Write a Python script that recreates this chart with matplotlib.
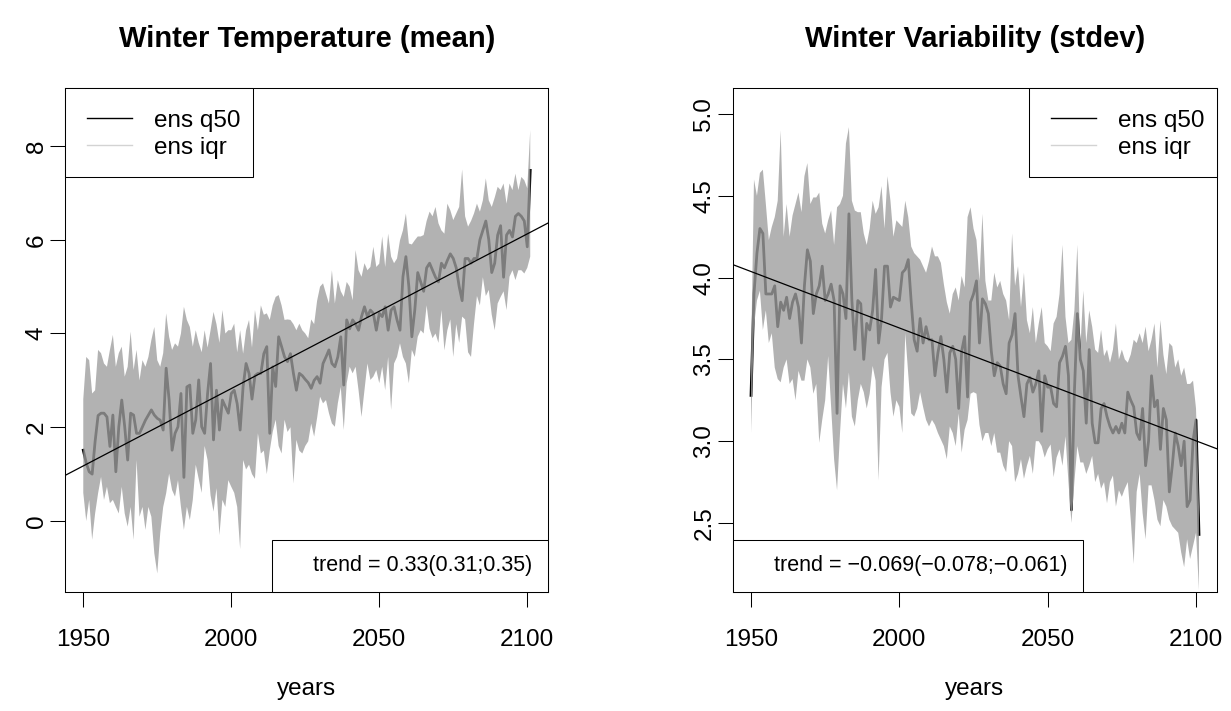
import numpy as np
import matplotlib
matplotlib.use("Agg")
import matplotlib.pyplot as plt
from matplotlib.lines import Line2D
from matplotlib.patches import Rectangle

# ---------------------------------------------------------------- data
years = np.arange(1950, 2102)

# winter mean temperature: ensemble median and inter-quartile range
temp_q50 = [
    1.51, 1.24, 1.05, 1.00, 1.70, 2.25, 2.30, 2.30, 2.22, 1.59,
    2.26, 1.05, 2.01, 2.58, 2.01, 1.30, 2.30, 2.26, 1.87, 1.87,
    2.01, 2.15, 2.26, 2.37, 2.26, 2.19, 2.15, 1.94, 3.26, 2.58,
    1.51, 1.87, 2.01, 2.72, 0.93, 2.86, 2.90, 1.87, 2.16, 3.01,
    2.01, 1.87, 2.72, 3.36, 1.73, 2.79, 1.94, 2.58, 2.44, 2.30,
    2.72, 2.79, 2.50, 1.94, 2.87, 3.36, 3.15, 2.60, 3.10, 3.15,
    3.15, 3.57, 3.72, 1.87, 3.29, 2.87, 3.93, 3.72, 3.50, 3.40,
    3.57, 3.15, 2.79, 3.15, 3.10, 3.02, 2.95, 2.83, 3.00, 3.08, 2.94,
    3.36, 3.50, 3.65, 3.36, 3.29, 3.50, 3.93, 2.90, 4.29, 4.10,
    4.29, 4.20, 4.07, 4.36, 4.57, 4.36, 4.50, 4.43, 4.07, 4.43,
    4.36, 4.57, 4.07, 4.50, 4.57, 4.29, 4.07, 5.21, 5.64, 5.00,
    3.93, 4.50, 5.30, 5.10, 4.90, 5.40, 5.50, 5.35, 5.20, 5.10,
    5.50, 5.40, 5.56, 5.70, 5.60, 5.40, 5.00, 4.70, 5.60, 5.60,
    5.50, 5.60, 5.60, 6.00, 6.20, 6.40, 6.00, 5.30, 5.50, 6.10,
    6.30, 5.20, 6.10, 6.20, 6.06, 6.50, 6.56, 6.50, 6.40, 5.85, 7.48,
]
temp_q75 = [
    2.60, 3.50, 3.43, 2.72, 2.79, 3.65, 3.58, 3.36, 3.29, 3.65,
    3.97, 3.29, 3.58, 3.72, 3.08, 3.29, 4.04, 3.22, 3.65, 3.00,
    3.43, 3.29, 3.50, 3.86, 4.14, 3.43, 3.29, 3.58, 4.43, 3.93,
    3.65, 3.79, 3.72, 4.00, 4.57, 4.29, 4.14, 3.72, 4.07, 3.80,
    3.60, 4.07, 3.70, 4.07, 4.46, 4.20, 3.80, 4.50, 4.00, 4.07,
    4.07, 4.21, 3.60, 4.07, 3.57, 4.07, 4.29, 3.70, 4.50, 4.07,
    4.60, 4.40, 4.43, 4.29, 4.60, 4.78, 4.82, 4.60, 4.29, 4.30,
    4.29, 4.20, 4.07, 4.21, 4.07, 4.00, 3.90, 4.30, 4.20, 4.70, 5.00,
    5.07, 4.85, 4.64, 5.35, 4.64, 5.14, 4.90, 4.78, 5.10, 5.00,
    4.71, 5.78, 5.35, 5.21, 5.50, 5.35, 5.42, 5.85, 5.42, 5.49,
    6.07, 5.42, 6.13, 5.64, 5.50, 5.60, 5.99, 6.20, 6.56, 5.92,
    5.90, 5.99, 6.07, 6.07, 6.10, 6.40, 6.60, 6.50, 6.70, 6.35,
    6.20, 6.13, 6.77, 6.63, 6.42, 6.56, 6.70, 7.50, 6.50, 6.28,
    6.40, 6.56, 6.77, 6.60, 6.84, 7.31, 6.84, 6.70, 6.90, 7.13,
    7.06, 7.20, 6.77, 7.20, 7.06, 7.41, 7.06, 7.34, 7.27, 7.10, 8.34,
]
temp_q25 = [
    0.60, 0.00, 0.45, -0.40, 0.16, 0.59, 0.94, 0.45, 0.73, 0.38,
    0.45, 0.30, 0.16, 0.73, 0.16, -0.12, 0.30, -0.40, 1.30, 0.09,
    0.30, -0.19, 0.30, 0.09, -0.69, -1.12, -0.26, 0.30, 0.59, 1.01,
    0.66, 0.52, 0.87, 0.30, -0.19, 0.30, 0.02, 0.45, 1.20, 0.90,
    0.60, 1.60, 1.30, 0.55, 0.20, 0.70, -0.30, 0.45, 0.30, 0.87,
    0.73, 0.60, 0.30, -0.60, 1.30, 1.10, 1.20, 1.00, 0.90, 1.87,
    1.44, 1.50, 1.00, 1.50, 1.90, 2.16, 1.60, 1.44, 2.16, 1.90,
    2.00, 0.80, 1.73, 1.50, 1.44, 1.60, 1.70, 2.08, 1.80, 2.20, 2.65,
    2.51, 2.58, 2.30, 2.08, 2.01, 2.51, 2.86, 1.94, 2.94, 3.29,
    3.15, 3.29, 2.79, 2.22, 2.79, 3.36, 3.01, 3.08, 3.22, 2.94,
    3.29, 2.79, 3.50, 2.37, 3.36, 3.50, 3.79, 3.50, 3.36, 2.94,
    3.65, 3.50, 3.93, 4.07, 4.00, 4.60, 4.10, 3.90, 4.00, 3.80,
    4.50, 3.64, 4.07, 4.30, 3.50, 4.20, 3.80, 4.36, 4.30, 3.60,
    3.50, 4.20, 4.80, 4.60, 5.20, 4.80, 4.93, 4.40, 4.07, 4.64,
    4.78, 4.90, 4.50, 5.21, 5.35, 5.14, 5.35, 5.35, 5.28, 5.40, 5.64,
]

# winter variability (standard deviation): ensemble median and IQR
sd_q50 = [
    3.28, 3.90, 4.15, 4.30, 4.27, 3.90, 3.90, 3.90, 3.95, 3.70,
    3.85, 3.80, 3.88, 3.75, 3.85, 3.90, 3.82, 3.60, 3.95, 4.17,
    4.10, 3.78, 3.90, 3.95, 4.07, 3.86, 3.90, 3.96, 3.86, 3.17,
    3.95, 3.90, 3.75, 4.39, 3.86, 3.56, 3.86, 3.84, 3.50, 3.72,
    3.68, 3.80, 4.05, 3.60, 3.75, 4.07, 4.07, 3.82, 3.88, 3.87,
    3.86, 4.03, 4.05, 4.11, 3.85, 3.62, 3.55, 3.75, 3.60, 3.70,
    3.62, 3.62, 3.40, 3.54, 3.64, 3.50, 3.30, 3.54, 3.58, 3.50,
    3.20, 3.55, 3.64, 3.27, 3.85, 3.90, 3.98, 3.60, 3.87, 3.84, 3.78,
    3.55, 3.40, 3.48, 3.46, 3.35, 3.29, 3.60, 3.65, 3.78, 3.40,
    3.27, 3.15, 3.35, 3.39, 3.30, 3.35, 3.43, 3.06, 3.40, 3.33,
    3.33, 3.23, 3.21, 3.48, 3.52, 3.58, 3.40, 2.58, 3.30, 3.78,
    3.50, 3.43, 3.11, 3.56, 3.11, 2.99, 2.99, 3.20, 3.23, 3.15,
    3.09, 3.05, 3.09, 3.05, 3.11, 3.05, 3.30, 3.25, 3.21, 3.05,
    3.01, 3.20, 2.85, 3.00, 3.40, 3.21, 3.25, 2.95, 3.20, 3.13,
    2.69, 2.85, 3.05, 2.97, 2.85, 3.00, 2.60, 2.64, 3.00, 3.13, 2.43,
]
sd_q75 = [
    3.50, 4.60, 4.50, 4.64, 4.66, 4.45, 4.23, 4.31, 4.37, 4.47,
    4.90, 4.25, 4.45, 4.25, 4.38, 4.45, 4.52, 4.40, 4.62, 4.70,
    4.45, 4.49, 4.49, 4.52, 4.33, 4.27, 4.35, 4.41, 4.20, 4.43,
    4.45, 4.50, 4.82, 4.92, 4.47, 4.41, 4.40, 4.40, 4.27, 4.20,
    4.30, 4.47, 4.39, 4.43, 4.56, 4.30, 4.62, 4.47, 4.25, 4.35,
    4.33, 4.31, 4.47, 4.37, 4.19, 4.15, 4.13, 4.11, 4.07, 4.03,
    4.10, 4.19, 4.13, 4.13, 4.09, 3.96, 3.85, 3.78, 3.90, 3.94,
    3.86, 4.01, 3.94, 4.37, 4.43, 4.30, 4.23, 3.98, 4.39, 3.98, 3.86,
    3.86, 4.03, 3.94, 3.98, 3.90, 3.86, 3.74, 4.27, 3.95, 4.07,
    3.82, 4.03, 3.74, 3.66, 3.82, 3.60, 3.72, 3.82, 3.60, 3.58,
    3.55, 3.72, 3.76, 3.90, 4.20, 3.76, 3.60, 3.62, 3.80, 4.20,
    3.56, 3.92, 3.60, 3.80, 3.70, 3.56, 3.54, 3.68, 3.52, 3.56,
    3.48, 3.56, 3.72, 3.50, 3.56, 3.50, 3.48, 3.53, 3.62, 3.60,
    3.66, 3.60, 3.70, 3.55, 3.62, 3.72, 3.45, 3.74, 3.53, 3.41,
    3.60, 3.58, 3.45, 3.50, 3.40, 3.45, 3.35, 3.35, 3.37, 3.20, 2.60,
]
sd_q25 = [
    3.05, 3.70, 3.86, 3.92, 3.68, 3.80, 3.60, 3.66, 3.45, 3.38,
    3.36, 3.45, 3.50, 3.35, 3.38, 3.25, 3.43, 3.37, 3.37, 3.50,
    3.45, 3.29, 3.35, 2.99, 3.13, 3.25, 3.52, 3.21, 2.89, 2.70,
    3.05, 3.35, 3.20, 3.42, 3.15, 3.09, 3.25, 3.35, 3.30, 3.20,
    3.29, 3.46, 3.37, 2.76, 3.33, 3.50, 3.54, 3.30, 3.15, 3.25,
    3.21, 3.05, 3.66, 3.41, 3.17, 3.15, 3.20, 3.30, 3.21, 3.13,
    3.09, 3.13, 3.10, 3.05, 3.01, 2.97, 2.89, 3.09, 3.05, 2.97,
    3.17, 2.93, 3.07, 3.13, 3.29, 3.30, 3.29, 3.10, 3.00, 3.05, 3.05,
    2.97, 3.05, 2.93, 2.93, 2.85, 2.81, 3.00, 2.97, 2.75, 2.80,
    2.89, 2.77, 2.85, 2.91, 2.80, 3.00, 3.00, 2.97, 2.90, 2.95,
    2.98, 2.78, 2.90, 2.95, 2.85, 3.03, 2.75, 2.50, 2.75, 2.97,
    2.87, 2.87, 2.80, 2.85, 2.91, 2.75, 2.80, 2.71, 2.75, 2.62,
    2.75, 2.79, 2.60, 2.70, 2.66, 2.71, 2.75, 2.52, 2.25, 2.69,
    2.80, 2.56, 2.40, 2.73, 2.73, 2.64, 2.52, 2.48, 2.64, 2.60,
    2.52, 2.48, 2.46, 2.44, 2.32, 2.23, 2.40, 2.28, 2.36, 2.44, 2.09,
]

# decadal trends with confidence bounds (per decade)
temp_trend = (0.33, 0.31, 0.35)
sd_trend = (-0.069, -0.078, -0.061)

x_ticks = [1950, 2000, 2050, 2100]
temp_yticks = [0, 2, 4, 6, 8]
sd_yticks = [2.5, 3.0, 3.5, 4.0, 4.5, 5.0]
legend_labels = ["ens q50", "ens iqr"]
titles = ["Winter Temperature (mean)", "Winter Variability (stdev)"]
x_label = "years"

# ---------------------------------------------------------------- style
plt.rcParams["font.family"] = ["Liberation Sans", "DejaVu Sans"]
plt.rcParams["axes.linewidth"] = 0.75

W, H = 1231, 711
fig = plt.figure(figsize=(W / 100, H / 100), dpi=100)
fig.patch.set_facecolor("white")

TICK_FS = 17.5
TITLE_FS = 21
TREND_FS = 15.5
BAND = "#9e9e9e"
LEG_W, LEG_H = 188.0, 89.0      # legend box size in pixels


def axes_px(x0, x1, y0, y1):
    ax = fig.add_axes([x0 / W, 1 - y1 / H, (x1 - x0) / W, (y1 - y0) / H])
    ax.px_size = (x1 - x0, y1 - y0)
    return ax


def fmt_num(v, nd):
    return f"{v:.{nd}f}".replace("-", "\u2212")


def panel(ax, q25, q50, q75, trend, nd, ylim, yticks, yfmt, title,
          legend_side, trend_loc):
    q25, q50, q75 = map(np.asarray, (q25, q50, q75))
    ax.plot(years, q50, color="black", lw=2.0, solid_joinstyle="round",
            zorder=2)
    ax.fill_between(years, q25, q75, facecolor=BAND, alpha=0.79, lw=0,
                    zorder=3)
    slope = trend[0] / 10.0
    icpt = q50.mean() - slope * years.mean()
    ax.axline((years[0], icpt + slope * years[0]), slope=slope,
              color="black", lw=0.9, zorder=4)

    ax.set_xlim(1943.96, 2107.04)
    ax.set_ylim(*ylim)
    ax.set_xticks(x_ticks)
    ax.set_yticks(yticks)
    ax.set_yticklabels([yfmt.format(t) for t in yticks])
    ax.tick_params(direction="out", length=10.8, width=0.75,
                   labelsize=TICK_FS, colors="black")
    ax.tick_params(axis="x", pad=15.5)
    ax.tick_params(axis="y", pad=2, labelrotation=90)
    for lbl in ax.get_yticklabels():
        lbl.set_va("center")
    for sp in ax.spines.values():
        sp.set_linewidth(0.75)

    # series legend: box in a corner, entries laid inside it
    pw, ph = ax.px_size
    bw, bh = LEG_W / pw, LEG_H / ph
    bx = 0.0 if legend_side == "left" else 1.0 - bw
    ax.add_patch(Rectangle((bx, 1.0 - bh), bw, bh, transform=ax.transAxes,
                           facecolor="white", edgecolor="black", lw=0.75,
                           zorder=6, clip_on=False))
    handles = [Line2D([], [], color="black", lw=1.0),
               Line2D([], [], color="#d3d3d3", lw=1.0)]
    leg = ax.legend(handles, legend_labels, loc="upper left",
                    bbox_to_anchor=(bx, 1.0), borderaxespad=0,
                    frameon=False, fontsize=TICK_FS, handlelength=1.85,
                    handletextpad=0.9, borderpad=0.9, labelspacing=0.22)
    leg.set_zorder(7)
    ax.add_artist(leg)

    label = "trend = {}({};{})".format(*(fmt_num(v, nd) for v in trend))
    tleg = ax.legend([Line2D([], [], color="none")], [label], loc=trend_loc,
                     borderaxespad=0, fancybox=False, edgecolor="black",
                     framealpha=1, fontsize=TREND_FS, handlelength=0.75,
                     handletextpad=0.45, borderpad=0.72)
    tleg.get_frame().set_linewidth(0.75)
    tleg.set_zorder(7)

    box = ax.get_position()
    cx = box.x0 + box.width / 2
    fig.text(cx, 1 - 39 / H, title, ha="center", va="center",
             fontsize=TITLE_FS, fontweight="bold")
    fig.text(cx, 1 - 689 / H, x_label, ha="center", va="center",
             fontsize=TICK_FS)


ax1 = axes_px(65.4, 548.1, 87.7, 592.0)
ax2 = axes_px(733.1, 1216.9, 87.7, 592.0)

panel(ax1, temp_q25, temp_q50, temp_q75, temp_trend, 2,
      (-1.515, 9.244), temp_yticks, "{:g}", titles[0],
      "left", "lower right")
panel(ax2, sd_q25, sd_q50, sd_q75, sd_trend, 3,
      (2.078, 5.161), sd_yticks, "{:.1f}", titles[1],
      "right", "lower left")

fig.savefig("out.png", dpi=100, facecolor="white")
